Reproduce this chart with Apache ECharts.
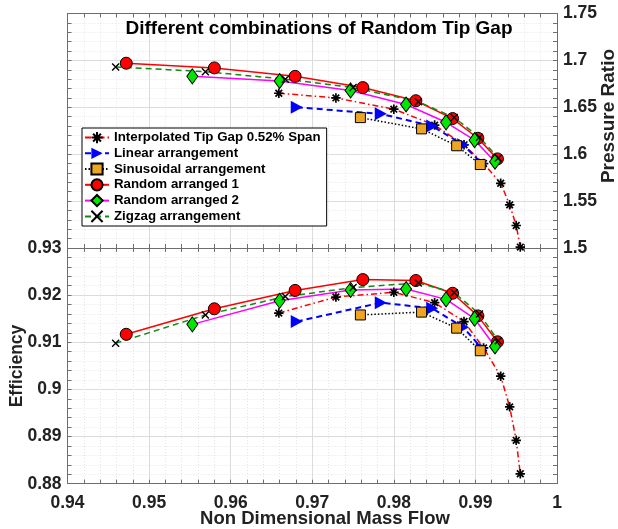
<!DOCTYPE html>
<html>
<head>
<meta charset="utf-8">
<script src="https://cdn.jsdelivr.net/npm/echarts@6/dist/echarts.min.js"></script>
<style>
  html, body { margin: 0; padding: 0; background: #fff; }
  #chart { width: 618px; height: 529px; }
</style>
</head>
<body>
<div id="chart"></div>
<script>
// Compressor map: pressure ratio (top) and efficiency (bottom) vs non-dimensional mass flow

const seriesNames = [
  'Interpolated Tip Gap 0.52% Span',
  'Linear arrangement',
  'Sinusoidal arrangement',
  'Random arranged 1',
  'Random arranged 2',
  'Zigzag arrangement'
];

// Interpolated tip gap 0.52% span
const interpX   = [0.9659, 0.9729, 0.9800, 0.9850, 0.9886, 0.9910, 0.9931, 0.9942, 0.9950, 0.9955];
const interpPR  = [1.665, 1.660, 1.648, 1.631, 1.610, 1.590, 1.569, 1.546, 1.524, 1.501];
const interpEff = [0.9162, 0.9196, 0.9206, 0.9184, 0.9144, 0.9088, 0.9028, 0.8963, 0.8892, 0.8821];

// Linear arrangement
const linearX   = [0.9681, 0.9784, 0.9847, 0.9885, 0.9908];
const linearPR  = [1.650, 1.643, 1.630, 1.610, 1.590];
const linearEff = [0.9144, 0.9184, 0.9172, 0.9132, 0.9087];

// Sinusoidal arrangement
const sinX   = [0.9759, 0.9834, 0.9877, 0.9906];
const sinPR  = [1.639, 1.627, 1.609, 1.589];
const sinEff = [0.9158, 0.9164, 0.9130, 0.9082];

// Random arranged 1
const rand1X   = [0.9472, 0.9580, 0.9679, 0.9762, 0.9827, 0.9872, 0.9903, 0.9927];
const rand1PR  = [1.697, 1.692, 1.683, 1.671, 1.657, 1.638, 1.617, 1.595];
const rand1Eff = [0.9117, 0.9171, 0.9210, 0.9233, 0.9231, 0.9204, 0.9156, 0.9101];

// Random arranged 2
const rand2X   = [0.9553, 0.9660, 0.9747, 0.9815, 0.9864, 0.9899, 0.9924];
const rand2PR  = [1.683, 1.678, 1.668, 1.653, 1.634, 1.615, 1.592];
const rand2Eff = [0.9138, 0.9188, 0.9211, 0.9213, 0.9191, 0.9150, 0.9091];

// Zigzag arrangement
const zigX   = [0.9459, 0.9569, 0.9667, 0.9750, 0.9830, 0.9874, 0.9905, 0.9928];
const zigPR  = [1.693, 1.688, 1.680, 1.671, 1.656, 1.639, 1.618, 1.596];
const zigEff = [0.9098, 0.9158, 0.9197, 0.9216, 0.9226, 0.9205, 0.9160, 0.9103];

// Axis ranges
const flowRange = [0.94, 1.0, 0.01];
const prRange   = [1.5, 1.75, 0.05];
const effRange  = [0.88, 0.93, 0.01];

const FONT = '"Liberation Sans", Arial, Helvetica, sans-serif';
const AXIS_COLOR = '#6e6e6e';
const LABEL_COLOR = '#222';

const STAR = 'path://M5,0L5,10M0,5L10,5M1.5,1.5L8.5,8.5M8.5,1.5L1.5,8.5';
const CROSS = 'path://M0,0L10,10M10,0L0,10';

const styles = [
  { // interpolated
    symbol: STAR, symbolSize: 9.5,
    itemStyle: { color: 'transparent', borderColor: '#000', borderWidth: 1.7 },
    lineStyle: { color: '#ff0000', width: 1.5, type: [6, 3, 1.5, 3] }
  },
  { // linear
    symbol: 'triangle', symbolSize: [13, 12], symbolRotate: -90,
    itemStyle: { color: '#0000ff', borderColor: '#0000ff', borderWidth: 0 },
    lineStyle: { color: '#0000ff', width: 2, type: [6, 4] }
  },
  { // sinusoidal
    symbol: 'rect', symbolSize: 10,
    itemStyle: { color: '#eda524', borderColor: '#000', borderWidth: 1 },
    lineStyle: { color: '#000', width: 1.5, type: [1.5, 2] }
  },
  { // random 1
    symbol: 'circle', symbolSize: 12,
    itemStyle: { color: '#ff0000', borderColor: '#000', borderWidth: 1 },
    lineStyle: { color: '#ff0000', width: 1.5, type: 'solid' }
  },
  { // random 2
    symbol: 'diamond', symbolSize: [11, 15],
    itemStyle: { color: '#00e800', borderColor: '#000', borderWidth: 1 },
    lineStyle: { color: '#ff00ff', width: 1.5, type: 'solid' }
  },
  { // zigzag
    symbol: CROSS, symbolSize: 7,
    itemStyle: { color: 'transparent', borderColor: '#000', borderWidth: 1.4 },
    lineStyle: { color: '#128a12', width: 1.5, type: [6, 4] }
  }
];

const topData = [
  [interpX, interpPR], [linearX, linearPR], [sinX, sinPR],
  [rand1X, rand1PR], [rand2X, rand2PR], [zigX, zigPR]
];
const bottomData = [
  [interpX, interpEff], [linearX, linearEff], [sinX, sinEff],
  [rand1X, rand1Eff], [rand2X, rand2Eff], [zigX, zigEff]
];

function pairs(xs, ys) { return xs.map((x, i) => [x, ys[i]]); }

function makeSeries(data, axisIdx) {
  return data.map((d, i) => Object.assign({
    type: 'line',
    name: seriesNames[i],
    xAxisIndex: axisIdx,
    yAxisIndex: axisIdx,
    data: pairs(d[0], d[1]),
    showAllSymbol: true,
    animation: false,
    z: 3
  }, styles[i]));
}

function valueAxis(range, opts) {
  return Object.assign({
    type: 'value',
    min: range[0], max: range[1], interval: range[2],
    axisLine: { show: true, onZero: false, lineStyle: { color: AXIS_COLOR, width: 1 } },
    axisTick: { show: true, inside: true, length: 4, lineStyle: { color: AXIS_COLOR } },
    minorTick: { show: true, splitNumber: 5, length: 4, lineStyle: { color: AXIS_COLOR } },
    axisLabel: { show: false },
    splitLine: { show: false },
    minorSplitLine: { show: false }
  }, opts);
}

const gridSplit = {
  splitLine: { show: true, lineStyle: { color: '#dcdcdc', width: 1 } },
  minorSplitLine: { show: true, lineStyle: { color: '#e4e4e4', width: 1, type: [1, 2] } }
};
const tickLabel = {
  show: true, fontFamily: FONT, fontSize: 17.5, fontWeight: 'bold', color: LABEL_COLOR
};

const option = {
  backgroundColor: '#fff',
  animation: false,
  title: {
    text: 'Different combinations of Random Tip Gap',
    left: 319, top: 19, textAlign: 'center', padding: 0,
    textStyle: { fontFamily: FONT, fontSize: 19, fontWeight: 'bold', color: '#000' }
  },
  grid: [
    { left: 67.5, right: 61, top: 13.5, height: 234.5, show: true, backgroundColor: '#fff', borderWidth: 0 },
    { left: 67.5, right: 61, top: 248, height: 235.7, show: true, backgroundColor: '#fff', borderWidth: 0 }
  ],
  xAxis: [
    valueAxis(flowRange, Object.assign({ gridIndex: 0, position: 'bottom' }, gridSplit)),
    valueAxis(flowRange, { gridIndex: 0, position: 'top' }),
    valueAxis(flowRange, Object.assign({ gridIndex: 1, position: 'bottom',
      axisLabel: Object.assign({ margin: 10, showMinLabel: true, showMaxLabel: true }, tickLabel) }, gridSplit)),
    valueAxis(flowRange, { gridIndex: 1, position: 'top' })
  ],
  yAxis: [
    valueAxis(prRange, Object.assign({ gridIndex: 0, position: 'left' }, gridSplit)),
    valueAxis(prRange, { gridIndex: 0, position: 'right',
      axisLabel: Object.assign({ margin: 6, showMinLabel: true, showMaxLabel: true }, tickLabel) }),
    valueAxis(effRange, Object.assign({ gridIndex: 1, position: 'left',
      axisLabel: Object.assign({ margin: 6, showMinLabel: true, showMaxLabel: true }, tickLabel) }, gridSplit)),
    valueAxis(effRange, { gridIndex: 1, position: 'right' })
  ],
  legend: {
    data: seriesNames,
    orient: 'vertical',
    left: 82, top: 128,
    padding: [3, 6, 3, 2],
    itemGap: 2.6,
    itemWidth: 24,
    itemHeight: 14,
    backgroundColor: '#fff',
    borderColor: '#000',
    borderWidth: 1,
    borderRadius: 0,
    selectedMode: false,
    textStyle: { fontFamily: FONT, fontSize: 13.3, fontWeight: 'bold', color: '#000' }
  },
  graphic: [
    {
      type: 'text', x: 609, y: 116, rotation: Math.PI / 2,
      style: { text: 'Pressure Ratio', fontFamily: FONT, fontSize: 19, fontWeight: 'bold',
               fill: LABEL_COLOR, align: 'center', verticalAlign: 'middle' }
    },
    {
      type: 'text', x: 17, y: 366, rotation: Math.PI / 2,
      style: { text: 'Efficiency', fontFamily: FONT, fontSize: 17.5, fontWeight: 'bold',
               fill: LABEL_COLOR, align: 'center', verticalAlign: 'middle' }
    },
    {
      type: 'text', x: 325, y: 519,
      style: { text: 'Non Dimensional Mass Flow', fontFamily: FONT, fontSize: 18.5, fontWeight: 'bold',
               fill: LABEL_COLOR, align: 'center', verticalAlign: 'middle' }
    }
  ],
  series: makeSeries(topData, 0).concat(makeSeries(bottomData, 2))
};

const chart = echarts.init(document.getElementById('chart'), null, { renderer: 'canvas' });
chart.setOption(option);
</script>
</body>
</html>
